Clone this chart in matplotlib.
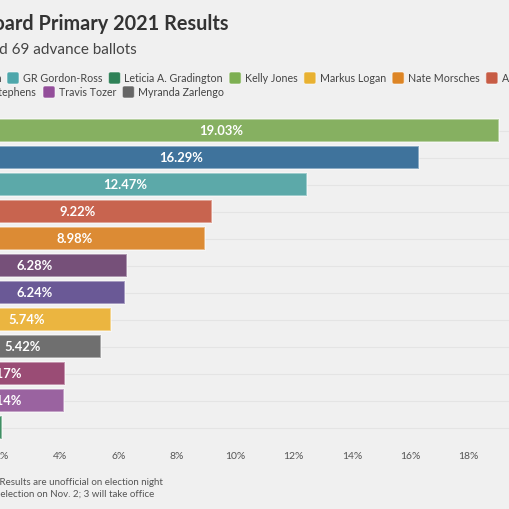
import matplotlib
matplotlib.use("Agg")
import matplotlib.pyplot as plt
from matplotlib.patches import FancyBboxPatch
from matplotlib.ticker import FuncFormatter

# ---------------- data ----------------
candidates = ["Kelly Jones", "Carole Cadue-Blackwood", "GR Gordon-Ross", "Andrew Nussbaum",
              "Nate Morsches", "Kay Emerson", "Bob Byers", "Markus Logan",
              "Myranda Zarlengo", "Elizabeth Stephens", "Travis Tozer", "Leticia A. Gradington"]
shares = [19.03, 16.29, 12.47, 9.22, 8.98, 6.28, 6.24, 5.74, 5.42, 4.17, 4.14, 2.03]
bar_colors = ["#86b061", "#3f739c", "#5ca9a9", "#c8644f", "#dc8b34", "#765079",
              "#6a5996", "#ebb540", "#6f6f6f", "#9a4c75", "#9a63a0", "#3f8e63"]
swatch_colors = {"Kelly Jones": "#7daf52", "Carole Cadue-Blackwood": "#356f9c",
                 "GR Gordon-Ross": "#4ea7ab", "Andrew Nussbaum": "#c75c45",
                 "Nate Morsches": "#dd8525", "Kay Emerson": "#6f4573",
                 "Bob Byers": "#614f93", "Markus Logan": "#e8b131",
                 "Myranda Zarlengo": "#666666", "Elizabeth Stephens": "#944069",
                 "Travis Tozer": "#934e9a", "Leticia A. Gradington": "#2f8157"}
legend_row1_left = ["Bob Byers", "Carole Cadue-Blackwood", "Kay Emerson"]
legend_row1 = ["GR Gordon-Ross", "Leticia A. Gradington", "Kelly Jones", "Markus Logan",
               "Nate Morsches", "Andrew Nussbaum"]
legend_row2 = ["Elizabeth Stephens", "Travis Tozer", "Myranda Zarlengo"]
x_ticks = [0, 2, 4, 6, 8, 10, 12, 14, 16, 18]
title = "USD 497 School Board Primary 2021 Results"
subtitle = "Includes all precincts and 69 advance ballots"
notes = ["Note: Results are unofficial on election night",
         "Top 6 advance to general election on Nov. 2; 3 will take office"]

# ---------------- figure ----------------
W = H = 510
BG = "#f0f0f0"
plt.rcParams["font.family"] = ["Lato", "DejaVu Sans"]
fig = plt.figure(figsize=(W / 100, H / 100), dpi=100, facecolor=BG)

def fx(x):
    return x / W

def fy(y):
    return 1 - y / H

# axes placed in pixel terms (chart is cropped on the left)
ax_left, ax_right = -56.8, -56.8 + 20 * 29.2
ax_top, ax_bot = 118, 442
ax = fig.add_axes([fx(ax_left), fy(ax_bot), (ax_right - ax_left) / W, (ax_bot - ax_top) / H])
ax.set_facecolor(BG)

ypos = list(range(len(candidates)))
ax.barh(ypos, shares, height=0.85, color=bar_colors,
        edgecolor=(1, 1, 1, 0.45), linewidth=1.3, zorder=2)
for i, v in enumerate(shares):
    ax.text(v / 2, i, f"{v:.2f}%", ha="center", va="center", color="white",
            fontsize=9.4, fontweight="bold", zorder=3)

ax.set_xlim(0, 20)
ax.set_ylim(len(candidates) - 0.5, -0.5)
ax.set_yticks(ypos)
ax.set_yticklabels([])
ax.set_xticks(x_ticks)
ax.xaxis.set_major_formatter(FuncFormatter(lambda v, p: f"{v:.0f}%"))
ax.tick_params(axis="both", length=0)
ax.tick_params(axis="x", colors="#555555", labelsize=7.5, pad=7)
ax.grid(axis="y", color="#e4e4e4", linewidth=0.8)
ax.grid(axis="x", visible=False)
ax.set_axisbelow(True)
for s in ax.spines.values():
    s.set_visible(False)

# ---------------- titles ----------------
fig.text(fx(229), fy(30), title, ha="right", va="baseline", fontsize=14.3,
         fontweight="bold", color="#333333")
fig.text(fx(137), fy(54), subtitle, ha="right", va="baseline", fontsize=11,
         color="#444444")

# ---------------- legend ----------------
renderer = fig.canvas.get_renderer()
SW = 12
LFS = 7.65

def text_width(t):
    return t.get_window_extent(renderer).width

def swatch(x, yc, color):
    p = FancyBboxPatch((fx(x), fy(yc + SW / 2)), SW / W, SW / H,
                       boxstyle=f"round,pad=0,rounding_size={2 / W}",
                       transform=fig.transFigure, facecolor=color,
                       edgecolor=(1, 1, 1, 0.5), linewidth=0.8)
    fig.add_artist(p)

def item_right(x, yc, name):
    t = fig.text(fx(x + SW + 4), fy(yc), name, ha="left", va="center",
                 fontsize=LFS, color="#444444")
    swatch(x, yc, swatch_colors[name])
    return x + SW + 4 + text_width(t) + 6

def item_left(xend, yc, name):
    t = fig.text(fx(xend), fy(yc), name, ha="right", va="center",
                 fontsize=LFS, color="#444444")
    w = text_width(t)
    sx = xend - w - 4 - SW
    swatch(sx, yc, swatch_colors[name])
    return sx - 6

row1_y, row2_y = 79, 93
x = 7
for name in legend_row1:
    x = item_right(x, row1_y, name)
xe = 2
for name in reversed(legend_row1_left):
    xe = item_left(xe, row1_y, name)

first = legend_row2[0]
xe = item_left(36, row2_y, first)
x = 43
for name in legend_row2[1:]:
    x = item_right(x, row2_y, name)

# ---------------- notes ----------------
fig.text(fx(163), fy(483), notes[0], ha="right", va="center", fontsize=7.05, color="#555555")
fig.text(fx(154), fy(495), notes[1], ha="right", va="center", fontsize=7.05, color="#555555")

fig.savefig("out.png", dpi=100, facecolor=BG)
